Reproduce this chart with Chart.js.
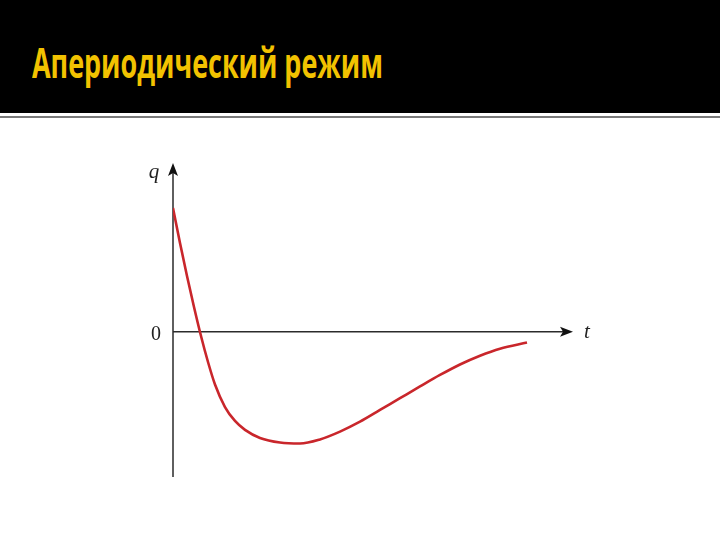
<html>
  <head>
    <script src="https://cdn.jsdelivr.net/npm/chart.js@4/dist/chart.umd.min.js"></script>
    <style>
      body {
        margin: 0;
        width: 720px;
        height: 540px;
        overflow: hidden;
        background: #fff;
        position: relative;
      }
      .header {
        position: absolute;
        left: 0;
        top: 0;
        width: 720px;
        height: 113px;
        background: #000;
      }
      .title {
        position: absolute;
        left: 32px;
        top: 33px;
        font-family: "Open Sans", sans-serif;
        font-weight: 700;
        font-size: 42px;
        color: #f2c200;
        white-space: nowrap;
        transform-origin: 0 0;
      }
      .rule {
        position: absolute;
        left: 0;
        top: 116px;
        width: 720px;
        height: 2px;
        background: #7a7a7a;
      }
      #wrap {
        position: absolute;
        left: 0;
        top: 0;
        width: 720px;
        height: 540px;
      }
    </style>
  </head>
  <body>
    <div class="header"><span class="title" id="title">Апериодический режим</span></div>
    <div class="rule"></div>
    <div id="wrap"><canvas id="chart"></canvas></div>

    <script>
      // time values (t) and charge values (q)
      const t_values = [0, 0.175, 0.35, 0.525, 0.7, 0.875, 1.05, 1.3, 1.55, 1.8, 2.175, 2.675,
        3.175, 3.675, 4.175, 4.675, 5.175, 5.675, 6.175, 6.675, 7.175, 7.675, 8.175, 8.85];
      const q_values = [1.0, 0.717, 0.45, 0.2, -0.035, -0.245, -0.427, -0.609, -0.722, -0.794,
        -0.859, -0.896, -0.904, -0.871, -0.808, -0.728, -0.633, -0.538, -0.443, -0.35,
        -0.265, -0.194, -0.137, -0.088];
      const axis_labels = { x: "t", y: "q", origin: "0" };

      // squeeze the title to the width it has in the slide
      const title = document.getElementById("title");
      title.style.transform = `scaleX(${351 / title.getBoundingClientRect().width})`;

      const points = t_values.map((t, i) => ({ x: t, y: q_values[i] }));

      const arrow_axes = {
        id: "arrow_axes",
        beforeDatasetsDraw: (chart) => {
          const ctx = chart.ctx;
          const xs = chart.scales.x;
          const ys = chart.scales.y;
          const x0 = xs.getPixelForValue(0);
          const y0 = ys.getPixelForValue(0);
          const area = chart.chartArea;
          ctx.save();
          ctx.strokeStyle = "#2b2b2b";
          ctx.fillStyle = "#111";
          ctx.lineWidth = 1.5;
          ctx.beginPath();
          ctx.moveTo(x0, area.bottom);
          ctx.lineTo(x0, area.top + 8);
          ctx.moveTo(x0, y0);
          ctx.lineTo(area.right - 8, y0);
          ctx.stroke();
          // arrow heads
          ctx.beginPath();
          ctx.moveTo(x0, area.top);
          ctx.lineTo(x0 - 5, area.top + 13);
          ctx.lineTo(x0, area.top + 10);
          ctx.lineTo(x0 + 5, area.top + 13);
          ctx.closePath();
          ctx.fill();
          ctx.beginPath();
          ctx.moveTo(area.right, y0);
          ctx.lineTo(area.right - 13, y0 - 5);
          ctx.lineTo(area.right - 10, y0);
          ctx.lineTo(area.right - 13, y0 + 5);
          ctx.closePath();
          ctx.fill();
          // labels
          ctx.fillStyle = "#222";
          ctx.textBaseline = "middle";
          ctx.textAlign = "center";
          ctx.font = "italic 21px 'Liberation Serif', serif";
          ctx.fillText(axis_labels.y, x0 - 19, area.top + 9);
          ctx.fillText(axis_labels.x, area.right + 14, y0 + 1);
          ctx.font = "20px 'Liberation Serif', serif";
          ctx.fillText(axis_labels.origin, x0 - 17, y0 + 3);
          ctx.restore();
        },
      };

      new Chart(document.getElementById("chart"), {
        type: "line",
        data: {
          datasets: [
            {
              data: points,
              borderColor: "#c9262b",
              borderWidth: 2.6,
              pointRadius: 0,
              cubicInterpolationMode: "monotone",
              fill: false,
            },
          ],
        },
        options: {
          responsive: true,
          maintainAspectRatio: false,
          animation: false,
          layout: { padding: { left: 173, right: 147, top: 163, bottom: 63 } },
          scales: {
            x: { type: "linear", min: 0, max: 10, display: false },
            y: { type: "linear", min: -1.175, max: 1.364, display: false },
          },
          plugins: { legend: { display: false }, tooltip: { enabled: false } },
        },
        plugins: [arrow_axes],
      });
    </script>
  </body>
</html>
